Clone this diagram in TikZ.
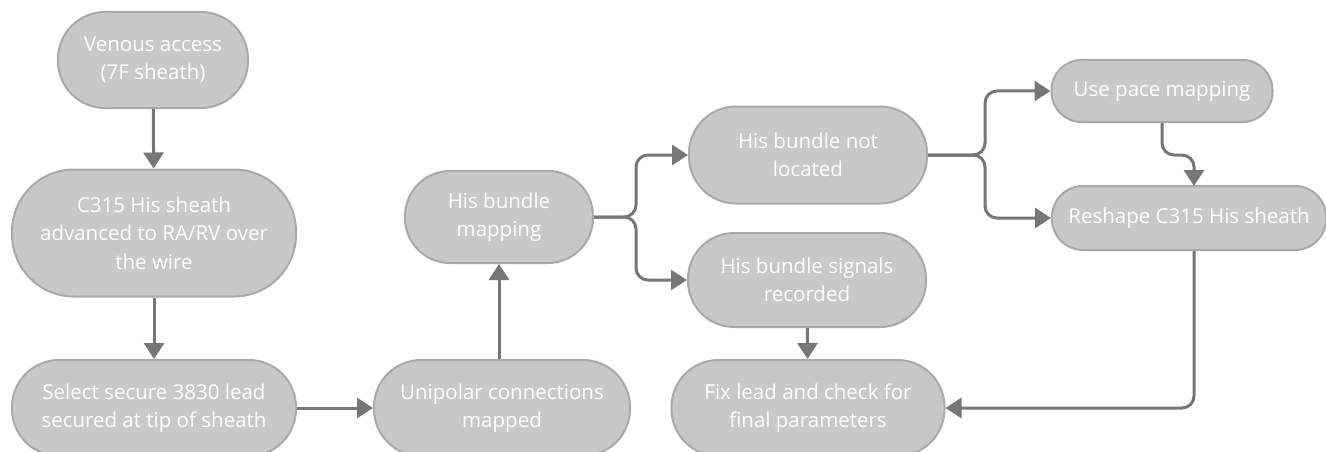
\documentclass[tikz,border=0pt]{standalone}
\usepackage{fontspec}
\setmainfont{Open Sans}
\usetikzlibrary{arrows.meta}
\definecolor{boxfill}{HTML}{C8C8C8}
\definecolor{boxline}{HTML}{A9A9A9}
\definecolor{arr}{HTML}{767676}
\begin{document}
\begin{tikzpicture}[x=1pt,y=-1pt,
  box/.style={draw=boxline, line width=2pt, fill=boxfill, text=white, align=center,
    font=\fontsize{20.5}{28.5}\selectfont, inner sep=0pt},
  conn/.style={draw=arr, line width=3pt, -{Triangle[length=16pt,width=20pt]}, rounded corners=12pt}]
\useasboundingbox (0,0) rectangle (1326,452);

\node[box, minimum width=190pt, minimum height=96pt, rounded corners=47pt] (venous) at (153,60) {Venous access\\(7F sheath)};
\node[box, minimum width=284pt, minimum height=127pt, rounded corners=62pt] (c315) at (154,233) {C315 His sheath\\advanced to RA/RV over\\the wire};
\node[box, minimum width=284pt, minimum height=96pt, rounded corners=47pt] (select) at (154,408) {Select secure 3830 lead\\secured at tip of sheath};
\node[box, minimum width=256pt, minimum height=96pt, rounded corners=47pt] (unipolar) at (502,408) {Unipolar connections\\mapped};
\node[box, minimum width=188pt, minimum height=92pt, rounded corners=45pt] (hbm) at (499,217) {His bundle\\mapping};
\node[box, minimum width=238pt, minimum height=97pt, rounded corners=47pt] (notloc) at (808,155) {His bundle not\\located};
\node[box, minimum width=238pt, minimum height=94pt, rounded corners=46pt] (signals) at (807,280) {His bundle signals\\recorded};
\node[box, minimum width=273pt, minimum height=96pt, rounded corners=47pt] (fix) at (808,408) {Fix lead and check for\\final parameters};
\node[box, minimum width=221pt, minimum height=62pt, rounded corners=30pt] (pace) at (1162,91) {Use pace mapping};
\node[box, minimum width=274pt, minimum height=64pt, rounded corners=31pt] (reshape) at (1189,218) {Reshape C315 His sheath};

\coordinate (j1) at (636,217);
\coordinate (j2) at (985,155);
\coordinate (bend1) at (1162,155);
\coordinate (bend2) at (1194,155);
\coordinate (rt) at (1194,186);

\draw[conn] (venous) -- (c315);
\draw[conn] (c315) -- (select);
\draw[conn] (select) -- (unipolar);
\draw[conn] (hbm.south |- unipolar.north) -- (hbm.south);
\draw[conn] (hbm.east) -- (j1) |- (notloc.west);
\draw[conn] (hbm.east) -- (j1) |- (signals.west);
\draw[conn] (notloc.east) -- (j2) |- (pace.west);
\draw[conn] (notloc.east) -- (j2) |- (reshape.west);
\draw[conn] (pace.south) -- (bend1) -- (bend2) -- (rt);
\draw[conn] (signals) -- (fix);
\draw[conn] (rt |- reshape.south) |- (fix.east);
\end{tikzpicture}
\end{document}
